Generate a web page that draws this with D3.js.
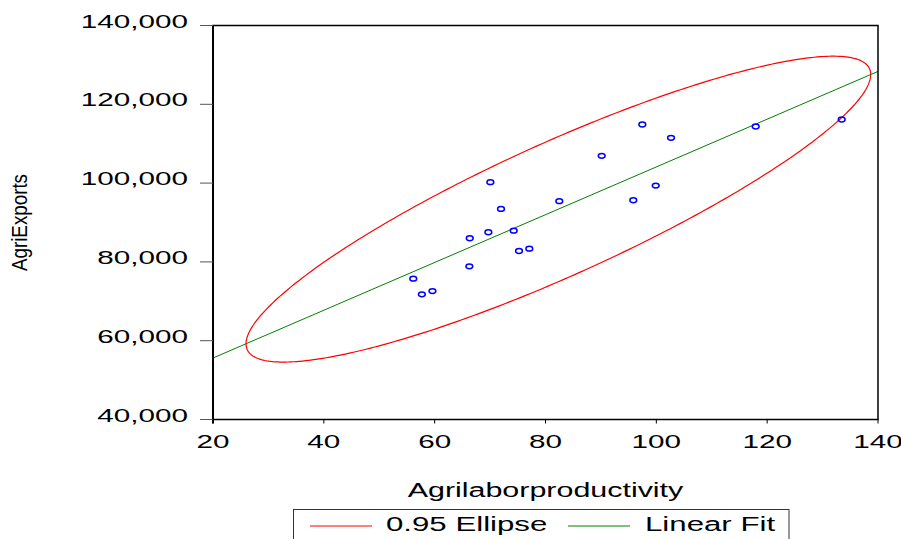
<!DOCTYPE html>
<html>
<head>
<meta charset="utf-8">
<script src="https://cdn.jsdelivr.net/npm/d3@7"></script>
<style>
  body { margin: 0; background: #fff; }
  text { font-family: "Liberation Sans", Arial, sans-serif; fill: #000; }
</style>
</head>
<body>
<div id="chart"></div>
<script>
// values
const productivity = [56.14, 57.69, 59.60, 66.33, 66.26, 69.69, 70.05, 71.97, 74.26, 75.22,
    77.08, 82.49, 90.14, 95.84, 97.47, 99.89, 102.65, 117.93, 133.45];
const agriExports = [75730, 71770, 72600, 86000, 78880, 87520, 100230, 93440, 87930, 82770,
    83350, 95400, 106910, 95650, 114870, 99360, 111490, 114360, 116140];

const xTicks = [20, 40, 60, 80, 100, 120, 140];
const yTicks = [40000, 60000, 80000, 100000, 120000, 140000];
const legendLabels = ['0.95 Ellipse', 'Linear Fit'];

// F(2, n-2) critical value at 0.95, used for the confidence ellipse
const fCritical = 3.592;

const width = 901;
const height = 539;
const stretch = 1.56; // text in the picture is wide

const svg = d3.select('#chart')
    .append('svg')
    .attr('width', width)
    .attr('height', height);

const x = d3.scaleLinear().domain([20, 140]).range([213, 878]);
const y = d3.scaleLinear().domain([40000, 140000]).range([419.5, 25.5]);

const points = productivity.map((p, i) => ({ x: p, y: agriExports[i] }));

// stats for fit and ellipse
const n = points.length;
const mx = d3.mean(points, d => d.x);
const my = d3.mean(points, d => d.y);
const sxx = d3.sum(points, d => (d.x - mx) ** 2) / (n - 1);
const syy = d3.sum(points, d => (d.y - my) ** 2) / (n - 1);
const sxy = d3.sum(points, d => (d.x - mx) * (d.y - my)) / (n - 1);
const slope = sxy / sxx;
const intercept = my - slope * mx;

// stretched text helper: keeps anchor, widens glyphs
function wideText(sel, anchor) {
    sel.each(function() {
        const el = d3.select(this);
        const natural = this.getComputedTextLength();
        const len = natural * stretch;
        const x0 = +el.attr('x');
        let start = x0;
        if (anchor === 'middle') start = x0 - len / 2;
        if (anchor === 'end') start = x0 - len;
        el.attr('x', start)
            .attr('text-anchor', 'start')
            .attr('textLength', len)
            .attr('lengthAdjust', 'spacingAndGlyphs');
    });
}

// ellipse
const k = Math.sqrt(2 * fCritical);
const a = Math.sqrt(sxx);
const b = sxy / a;
const dd = Math.sqrt(syy - b * b);
const ellipsePts = d3.range(0, 361).map(deg => {
    const t = deg * Math.PI / 180;
    return [mx + k * a * Math.cos(t), my + k * (b * Math.cos(t) + dd * Math.sin(t))];
});

const line = d3.line()
    .x(d => x(d[0]))
    .y(d => y(d[1]));

svg.append('path')
    .attr('d', line(ellipsePts))
    .attr('fill', 'none')
    .attr('stroke', '#ff0000')
    .attr('stroke-width', 1.2);

// linear fit
svg.append('path')
    .attr('d', line([[20, intercept + slope * 20], [140, intercept + slope * 140]]))
    .attr('fill', 'none')
    .attr('stroke', '#008000')
    .attr('stroke-width', 1);

// points
svg.selectAll('.dot')
    .data(points)
    .enter()
    .append('ellipse')
    .attr('class', 'dot')
    .attr('cx', d => x(d.x))
    .attr('cy', d => y(d.y))
    .attr('rx', 3.4)
    .attr('ry', 2.4)
    .attr('fill', 'none')
    .attr('stroke', '#0000ff')
    .attr('stroke-width', 1.5);

// frame
svg.append('rect')
    .attr('x', x(20))
    .attr('y', y(140000))
    .attr('width', x(140) - x(20))
    .attr('height', y(40000) - y(140000))
    .attr('fill', 'none')
    .attr('stroke', '#000')
    .attr('stroke-width', 1.5);

svg.append('line')
    .attr('x1', x(20)).attr('x2', x(20))
    .attr('y1', y(140000)).attr('y2', y(40000) + 4)
    .attr('stroke', '#000')
    .attr('stroke-width', 2);

// y axis ticks and labels
const yAxis = svg.append('g');
yAxis.selectAll('line')
    .data(yTicks)
    .enter()
    .append('line')
    .attr('x1', 200)
    .attr('x2', x(20))
    .attr('y1', d => y(d))
    .attr('y2', d => y(d))
    .attr('stroke', '#555')
    .attr('stroke-width', 1);

yAxis.selectAll('text')
    .data(yTicks)
    .enter()
    .append('text')
    .attr('x', 188)
    .attr('y', d => y(d) + 2)
    .attr('font-size', 19)
    .text(d => d3.format(',')(d))
    .call(wideText, 'end');

// x axis ticks and labels
const xAxis = svg.append('g');
xAxis.selectAll('line')
    .data(xTicks)
    .enter()
    .append('line')
    .attr('x1', d => x(d))
    .attr('x2', d => x(d))
    .attr('y1', y(40000))
    .attr('y2', y(40000) + 4)
    .attr('stroke', '#000')
    .attr('stroke-width', 1);

xAxis.selectAll('text')
    .data(xTicks)
    .enter()
    .append('text')
    .attr('x', d => x(d))
    .attr('y', 447.7)
    .attr('font-size', 19)
    .text(d => d)
    .call(wideText, 'middle');

// axis titles
svg.append('text')
    .attr('x', (x(20) + x(140)) / 2)
    .attr('y', 497.3)
    .attr('font-size', 19.5)
    .text('Agrilaborproductivity')
    .call(wideText, 'middle');

// y title is narrow and tall in the picture
const yMid = (y(40000) + y(140000)) / 2;
svg.append('text')
    .attr('transform', `translate(27, ${yMid}) rotate(-90)`)
    .attr('x', -48.5)
    .attr('font-size', 22)
    .attr('textLength', 97)
    .attr('lengthAdjust', 'spacingAndGlyphs')
    .text('AgriExports');

// legend
const legend = svg.append('g');
legend.append('rect')
    .attr('x', 293.5)
    .attr('y', 509.5)
    .attr('width', 495.5)
    .attr('height', 40)
    .attr('fill', '#fff')
    .attr('stroke', '#333')
    .attr('stroke-width', 1);

const legendColors = ['#ff0000', '#008000'];
const legendLineX = [310, 568];
const legendTextX = [386, 645];

legendLabels.forEach((label, i) => {
    legend.append('line')
        .attr('x1', legendLineX[i])
        .attr('x2', legendLineX[i] + 62)
        .attr('y1', 526)
        .attr('y2', 526)
        .attr('stroke', legendColors[i])
        .attr('stroke-width', 1.2);
    legend.append('text')
        .attr('x', legendTextX[i])
        .attr('y', 531)
        .attr('font-size', 20)
        .text(label)
        .call(wideText, 'start');
});
</script>
</body>
</html>
